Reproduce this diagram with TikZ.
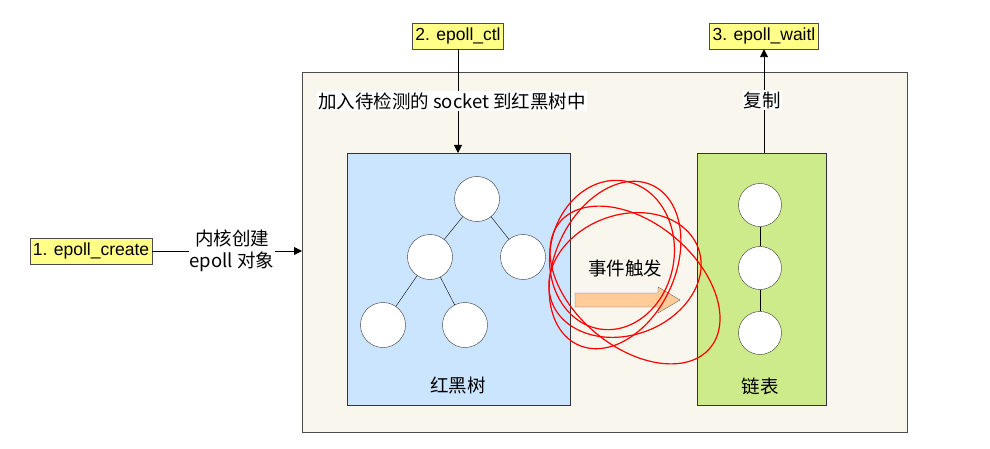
\documentclass[tikz,border=0pt]{standalone}
\usepackage{fontspec}
\setmainfont{Liberation Sans}
\newfontfamily\cjk{Noto Sans CJK SC}
\usetikzlibrary{arrows.meta}
\begin{document}
\begin{tikzpicture}[x=1pt,y=-1pt,
  lbl/.style={draw=black!70,fill={rgb,255:red,255;green,255;blue,136},font=\fontsize{17.5}{20}\selectfont,inner sep=3pt,minimum height=26},
  txt/.style={font=\cjk\fontsize{18.5}{22}\selectfont,align=center},
  circ/.style={circle,draw=black!80,fill=white,minimum size=45,inner sep=0},
  arr/.style={-{Triangle[length=8,width=8]},line width=0.9pt},
  red/.style={draw=red,line width=1.2pt}]
\useasboundingbox (0,0) rectangle (990,449);
\node[draw=black!70,fill={rgb,255:red,249;green,247;blue,237},minimum width=605,minimum height=360,inner sep=0,anchor=north west] (big) at (302,72) {};
\node[draw=black!80,fill={rgb,255:red,204;green,229;blue,255},minimum width=223,minimum height=252,inner sep=0,anchor=north west] (tree) at (347,153) {};
\node[draw=black!80,fill={rgb,255:red,205;green,235;blue,139},minimum width=129,minimum height=252,inner sep=0,anchor=north west] (list) at (697,153) {};
\node[lbl] (l1) at (91,251) {1. epoll\_create};
\node[lbl] (l2) at (458,36) {2. epoll\_ctl};
\node[lbl] (l3) at (764,36) {3. epoll\_waitl};
\node[circ] (r) at (477,199) {};
\node[circ] (a) at (430,257) {};
\node[circ] (b) at (523,257) {};
\node[circ] (c) at (383,325) {};
\node[circ] (d) at (465,325) {};
\draw (r)--(a) (r)--(b) (a)--(c) (a)--(d);
\node[circ,minimum size=43] (e1) at (760,205) {};
\node[circ,minimum size=43] (e2) at (760,268) {};
\node[circ,minimum size=43] (e3) at (760,333) {};
\draw (e1)--(e2) (e2)--(e3);
\node[txt] (t1) at (458,386) {红黑树};
\node[txt] (t2) at (760,386) {链表};
\node[txt] (t3) at (625,268) {事件触发};
\draw[draw=black!60,fill={rgb,255:red,255;green,204;blue,153}] (575,293) -- (658,293) -- (658,287) -- (680,300) -- (658,313) -- (658,307) -- (575,307) -- cycle;
\draw[arr] (l2.south) -- (l2.south |- tree.north) coordinate (tt);
\node[txt,fill=white,inner sep=1pt] (t4) at (452,101) {加入待检测的 socket 到红黑树中};
\draw[arr] (list.north -| l3.south) coordinate (lt) -- (l3.south);
\node[txt,fill=white,inner sep=1pt] (t5) at (762,100) {复制};
\draw[arr] (l1.east) -- (l1.east -| big.west);
\node[txt,fill=white,inner sep=1pt] (t6) at (232,251) {内核创建\\epoll 对象};
\draw[red,rotate around={-10:(612,255)}] (612,255) ellipse (62 and 75);
\draw[red,rotate around={-25:(615,265)}] (615,265) ellipse (60 and 88);
\draw[red,rotate around={20:(625,275)}] (625,275) ellipse (78 and 60);
\draw[red,rotate around={-40:(635,285)}] (635,285) ellipse (98 and 62);
\end{tikzpicture}
\end{document}
